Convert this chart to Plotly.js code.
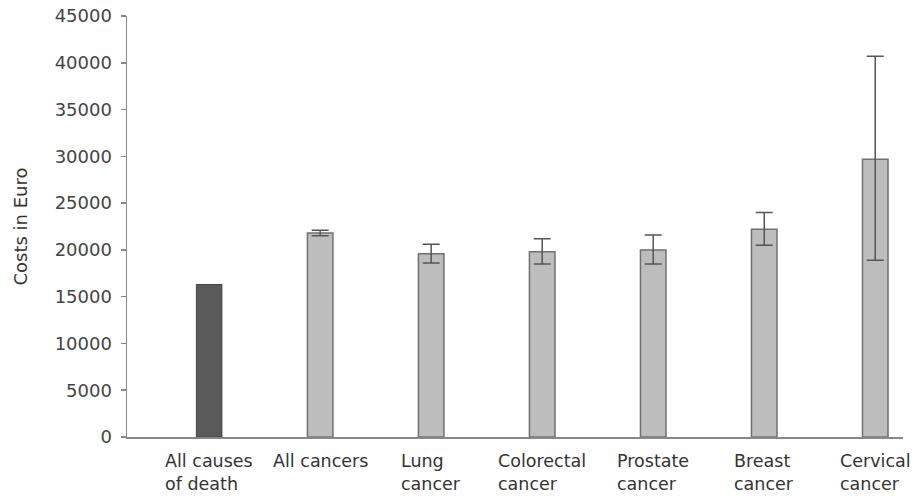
<!DOCTYPE html>
<html>
<head>
<meta charset="utf-8">
<script src="https://cdn.plot.ly/plotly-3.0.1.min.js"></script>
<style>html,body{margin:0;padding:0;background:#fff;}#chart{width:918px;height:500px;}</style>
</head>
<body>
<div id="chart"></div>
<script>
const categories = ["All causes<br>of death", "All cancers", "Lung<br>cancer", "Colorectal<br>cancer", "Prostate<br>cancer", "Breast<br>cancer", "Cervical<br>cancer"];
const allCausesCost = [16300];
const cancerCategories = categories.slice(1);
const cancerCosts = [21800, 19600, 19800, 20000, 22200, 29700];
const cancerErrPlus = [300, 1000, 1400, 1600, 1800, 11000];
const cancerErrMinus = [300, 1000, 1300, 1500, 1700, 10800];
const yTicks = [0, 5000, 10000, 15000, 20000, 25000, 30000, 35000, 40000, 45000];

const font = "DejaVu Sans, Liberation Sans, sans-serif";
const traces = [
  {
    type: "bar", x: [categories[0]], y: allCausesCost, width: 0.23,
    marker: {color: "#5a5a5a", line: {color: "#444", width: 1}},
    hoverinfo: "x+y"
  },
  {
    type: "bar", x: cancerCategories, y: cancerCosts, width: 0.23,
    marker: {color: "#bdbdbd", line: {color: "#707070", width: 1.5}},
    error_y: {type: "data", symmetric: false, array: cancerErrPlus, arrayminus: cancerErrMinus,
              color: "#555", thickness: 1.5, width: 8.5}
  }
];
const annotations = categories.map(c => ({
  x: c, xref: "x", y: 0, yref: "paper", yanchor: "top", xanchor: "center",
  yshift: -12, text: c, showarrow: false, align: "left",
  font: {family: font, size: 17.5, color: "#333"}
}));
const layout = {
  width: 918, height: 500,
  margin: {l: 127, r: 15, t: 16, b: 63},
  paper_bgcolor: "#fff", plot_bgcolor: "#fff",
  showlegend: false, barmode: "overlay",
  font: {family: font, size: 17, color: "#333"},
  annotations: annotations,
  xaxis: {
    type: "category", categoryorder: "array", categoryarray: categories,
    range: [-0.74, 6.25], showline: true, linecolor: "#888", linewidth: 1.5,
    ticks: "", showgrid: false, zeroline: false, showticklabels: false
  },
  yaxis: {
    range: [0, 45000], tickvals: yTicks, ticktext: yTicks.map(String),
    showline: true, linecolor: "#888", linewidth: 1.5,
    ticks: "outside", ticklen: 5, tickcolor: "#888", tickwidth: 1.5,
    ticklabelstandoff: 5,
    showgrid: false, zeroline: false,
    tickfont: {family: font, size: 18, color: "#444"},
    title: {text: "Costs in Euro", font: {family: font, size: 18, color: "#333"}, standoff: 22}
  }
};
Plotly.newPlot("chart", traces, layout, {displayModeBar: false, staticPlot: true});
</script>
</body>
</html>
